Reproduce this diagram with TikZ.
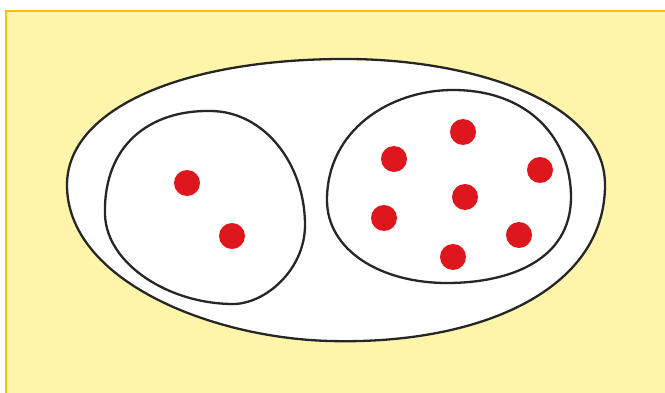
\documentclass[tikz,border=0pt]{standalone}
\begin{document}
\begin{tikzpicture}[x=1pt,y=-1pt,
  blob/.style={draw=black!85,line width=2.3pt,fill=white},
  dot/.style={circle,fill=dotred,inner sep=0pt,minimum size=26pt}]
\definecolor{bgyellow}{RGB}{255,245,170}
\definecolor{frameorange}{RGB}{255,192,0}
\definecolor{dotred}{RGB}{222,22,30}
\useasboundingbox (0,0) rectangle (665,393);
\fill[white] (0,0) rectangle (665,393);
\fill[bgyellow] (5,10) rectangle (665,393);
\draw[frameorange,line width=2.5pt] (6,393) -- (6,11) -- (665,11);
% outer set
\draw[blob] (67,185) .. controls (67,110) and (180,58) .. (350,59)
  .. controls (470,60) and (605,100) .. (605,185)
  .. controls (605,290) and (480,345) .. (330,341)
  .. controls (210,338) and (67,280) .. cycle;
% left subset
\draw[blob] (105,215) .. controls (103,145) and (150,110) .. (210,111)
  .. controls (265,111) and (305,165) .. (305,225)
  .. controls (305,270) and (265,304) .. (233,304)
  .. controls (170,304) and (107,265) .. cycle;
% right subset
\draw[blob] (327,200) .. controls (327,130) and (390,90) .. (453,90)
  .. controls (530,90) and (571,140) .. (571,197)
  .. controls (571,260) and (510,283) .. (447,283)
  .. controls (380,283) and (327,250) .. cycle;
% dots
\node[dot] (a1) at (187,183) {};
\node[dot] (a2) at (232,236) {};
\node[dot] (b1) at (463,132) {};
\node[dot] (b2) at (394,159) {};
\node[dot] (b3) at (540,170) {};
\node[dot] (b4) at (465,197) {};
\node[dot] (b5) at (384,218) {};
\node[dot] (b6) at (519,235) {};
\node[dot] (b7) at (453,257) {};
\end{tikzpicture}
\end{document}
